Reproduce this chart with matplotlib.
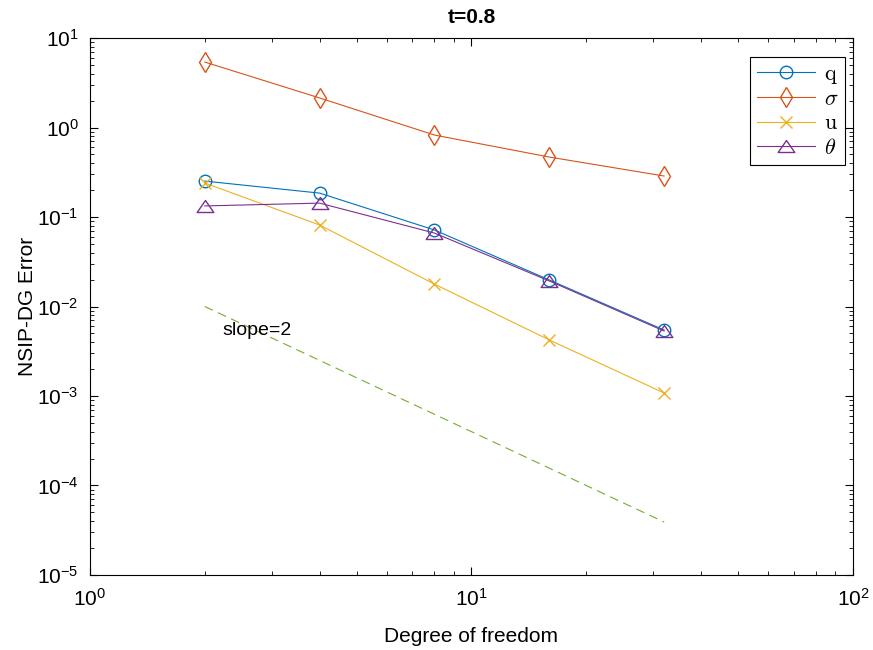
import numpy as np
import matplotlib
matplotlib.use("Agg")
import matplotlib.pyplot as plt
from matplotlib.path import Path

plt.rcParams['font.family'] = ['Liberation Sans', 'DejaVu Sans']
plt.rcParams['mathtext.fontset'] = 'cm'

# --- Data ---
dof = [2, 4, 8, 16, 32]
err_q = [0.252, 0.185, 0.0716, 0.0198, 0.00546]
err_sigma = [5.39, 2.14, 0.824, 0.468, 0.287]
err_u = [0.24, 0.0814, 0.0178, 0.00423, 0.00108]
err_theta = [0.133, 0.143, 0.0662, 0.0193, 0.00532]
ref_dof = [2, 32]
ref_err = [0.01, 0.01 / 256]

# wide MATLAB-style triangle
tri = Path([(0, 0.72), (-1, -0.72), (1, -0.72), (0, 0.72)],
           [Path.MOVETO, Path.LINETO, Path.LINETO, Path.CLOSEPOLY])

labels = [r'$\mathrm{q}$', r'$\sigma$', r'$\mathrm{u}$', r'$\theta$']
colors = ['#0072BD', '#D95319', '#EDB120', '#7E2F8E']
markers = ['o', 'd', 'x', tri]
msizes = [9, 10, 9, 12]

fig = plt.figure(figsize=(8.73, 6.5), dpi=100)
ax = fig.add_axes([0.103, 0.1154, 0.874, 0.8261])

for y, lab, c, m, ms in zip([err_q, err_sigma, err_u, err_theta], labels, colors, markers, msizes):
    ax.loglog(dof, y, color=c, marker=m, markersize=ms, markerfacecolor='none',
              markeredgewidth=1.0, linewidth=0.8, label=lab)

ax.loglog(ref_dof, ref_err, '--', color='#77AC30', linewidth=0.8, dashes=(8, 5))
ax.text(2.22, 0.0054, 'slope=2', fontsize=14, va='center', ha='left')

ax.set_xlim(1, 100)
ax.set_ylim(1e-5, 10)
ax.set_xlabel('Degree of freedom', fontsize=15, labelpad=13)
ax.set_ylabel('NSIP-DG Error', fontsize=15, labelpad=0)
ax.set_title('t=0.8', fontsize=15, fontweight='bold', pad=11)

ax.tick_params(which='both', direction='in', top=True, right=True, labelsize=15)
ax.tick_params(axis='x', which='major', pad=9)
ax.tick_params(axis='y', which='major', pad=8)
ax.tick_params(which='major', length=6)
ax.tick_params(which='minor', length=3)
for s in ax.spines.values():
    s.set_linewidth(0.8)

leg = ax.legend(loc='upper right', bbox_to_anchor=(0.9895, 0.9646), fontsize=16,
                fancybox=False, edgecolor='black', framealpha=1, borderaxespad=0,
                handlelength=2.6, borderpad=0.3, labelspacing=0.15, handletextpad=0.4)
leg.get_frame().set_linewidth(0.8)

fig.savefig('out.png', dpi=100)
